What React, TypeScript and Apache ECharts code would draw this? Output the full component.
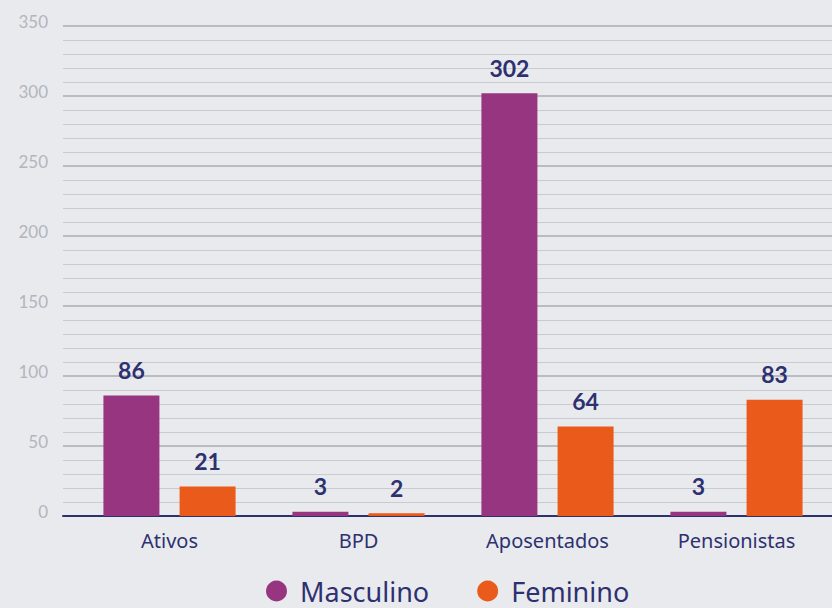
import React, { useEffect, useRef } from "react";
import * as echarts from "echarts";

const categories = ["Ativos", "BPD", "Aposentados", "Pensionistas"];
const masculino = [86, 3, 302, 3];
const feminino = [21, 2, 64, 83];
const seriesNames = ["Masculino", "Feminino"];

const NAVY = "#2e3170";
const FONT = "Lato";
const FONT2 = "Noto Sans";

export default function App() {
  const ref = useRef<HTMLDivElement>(null);
  useEffect(() => {
    if (!ref.current) return;
    const chart = echarts.init(ref.current, undefined, { renderer: "svg" });
    const label = {
      show: true,
      position: "top" as const,
      distance: 14,
      color: NAVY,
      fontFamily: FONT,
      fontWeight: "bold" as const,
      fontSize: 23,
    };
    chart.setOption({
      animation: false,
      backgroundColor: "#e9eaee",
      textStyle: { fontFamily: FONT },
      grid: [
        { left: 63, right: 0, top: 26, bottom: 92 },
        { left: 75, right: 1, top: 26, bottom: 92 },
      ],
      legend: {
        data: seriesNames,
        left: 266,
        top: 577,
        padding: 0,
        icon: "circle",
        itemWidth: 21,
        itemHeight: 21,
        itemGap: 48,
        textStyle: {
          color: NAVY,
          fontSize: 27,
          fontFamily: FONT2,
          lineHeight: 28,
          padding: [0, 0, 0, 8],
        },
      },
      xAxis: [
        {
          type: "category",
          gridIndex: 0,
          data: categories,
          axisLine: { show: true, lineStyle: { color: NAVY, width: 2 } },
          axisTick: { show: false },
          axisLabel: { show: false },
        },
        {
          type: "category",
          gridIndex: 1,
          data: categories,
          axisLine: { show: false },
          axisTick: { show: false },
          axisLabel: { color: NAVY, fontSize: 20, fontFamily: FONT2, margin: 14 },
        },
      ],
      yAxis: [
        {
          type: "value",
          gridIndex: 0,
          min: 0,
          max: 350,
          interval: 50,
          axisLine: { show: false },
          axisTick: { show: false },
          axisLabel: {
            color: "#b3b5bd",
            fontSize: 17,
            fontFamily: FONT,
            margin: 15,
            verticalAlign: "bottom",
            lineHeight: 10,
          },
          splitLine: { show: true, lineStyle: { color: "#babcc4", width: 2 } },
          minorTick: { show: false, splitNumber: 5 },
          minorSplitLine: { show: true, lineStyle: { color: "#c9cbd1", width: 1 } },
        },
        {
          type: "value",
          gridIndex: 1,
          min: 0,
          max: 350,
          interval: 50,
          show: false,
          splitLine: { show: false },
        },
      ],
      series: [
        {
          name: seriesNames[0],
          type: "bar",
          xAxisIndex: 1,
          yAxisIndex: 1,
          data: masculino,
          barWidth: 56,
          barGap: "36%",
          itemStyle: { color: "#973580" },
          label,
        },
        {
          name: seriesNames[1],
          type: "bar",
          xAxisIndex: 1,
          yAxisIndex: 1,
          data: feminino,
          barWidth: 56,
          barGap: "36%",
          itemStyle: { color: "#ea5a1a" },
          label,
        },
      ],
    });
    return () => chart.dispose();
  }, []);
  return (
    <div
      ref={ref}
      style={{ position: "fixed", left: 0, top: 0, width: 832, height: 608 }}
    />
  );
}
